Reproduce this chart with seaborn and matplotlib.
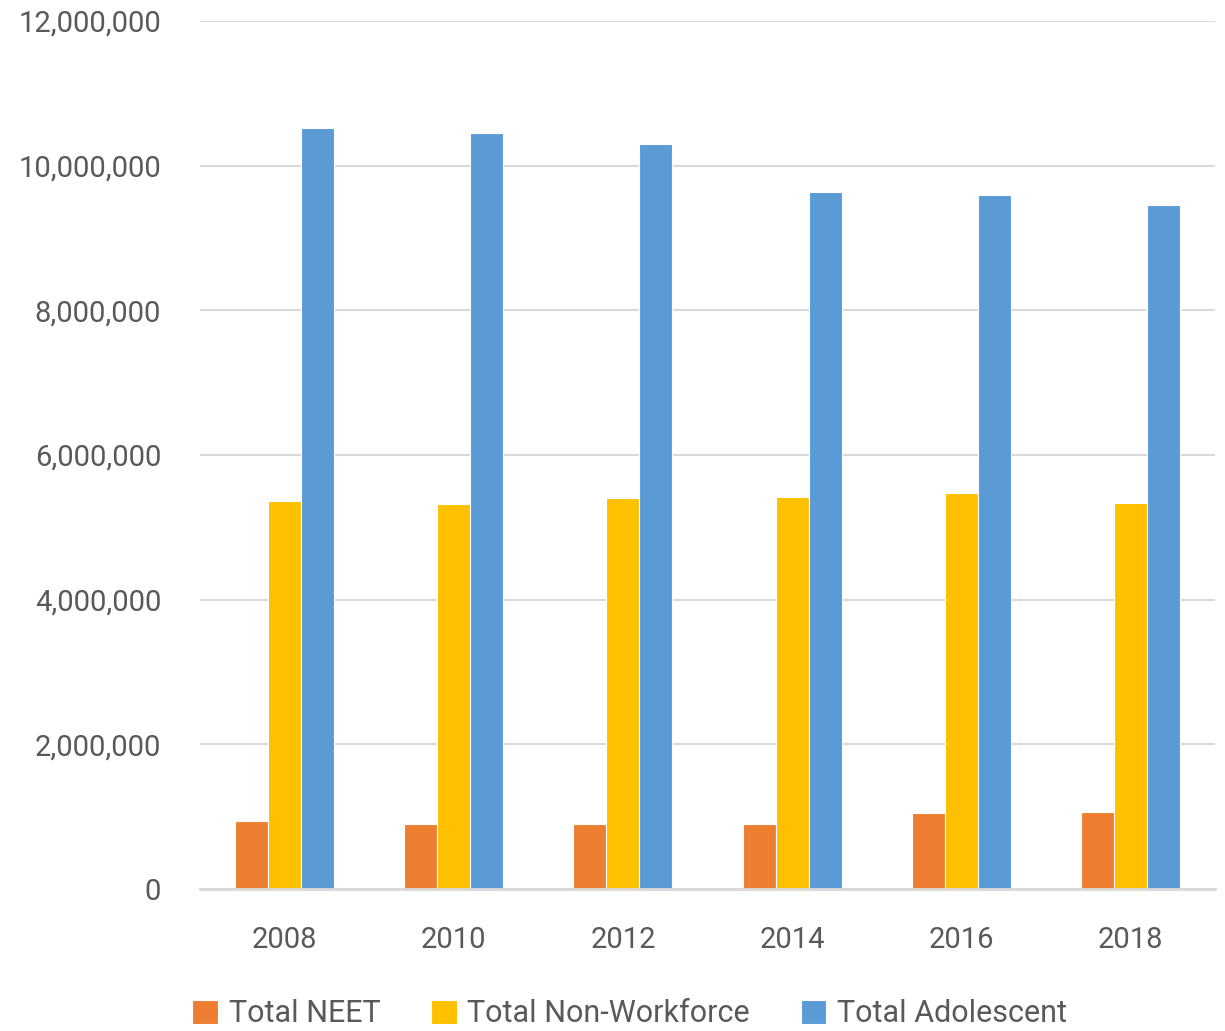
import pandas as pd
import seaborn as sns
import matplotlib.pyplot as plt
from matplotlib.ticker import FuncFormatter

# Values
years = ['2008', '2010', '2012', '2014', '2016', '2018']
total_neet = [941000, 900000, 900000, 900000, 1052000, 1066000]
total_non_workforce = [5360000, 5320000, 5400000, 5420000, 5470000, 5330000]
total_adolescent = [10520000, 10450000, 10300000, 9640000, 9590000, 9450000]

series = ['Total NEET', 'Total Non-Workforce', 'Total Adolescent']
colors = ['#ED7D31', '#FFC000', '#5B9BD5']

df = pd.DataFrame({
    'Year': years * 3,
    'Value': total_neet + total_non_workforce + total_adolescent,
    'Series': [s for s in series for _ in years],
})

sns.set_theme(style='white')
plt.rcParams['font.family'] = ['Roboto', 'DejaVu Sans']

fig = plt.figure(figsize=(12.25, 10.31), dpi=100)
ax = fig.add_axes([200 / 1225, (1031 - 889) / 1031, 1015 / 1225, 868 / 1031])

sns.barplot(data=df, x='Year', y='Value', hue='Series', hue_order=series,
            palette=colors, width=0.585, saturation=1, edgecolor='white',
            linewidth=0.8, ax=ax)

ax.set_ylim(0, 12000000)
ax.set_yticks(range(0, 12000001, 2000000))
ax.yaxis.set_major_formatter(FuncFormatter(lambda v, p: f'{int(v):,}'))
ax.grid(axis='y', color='#D9D9D9', linewidth=1.5)
ax.set_axisbelow(True)
for s in ['top', 'right', 'left']:
    ax.spines[s].set_visible(False)
ax.spines['bottom'].set_color('#D9D9D9')
ax.spines['bottom'].set_linewidth(2)
ax.set_xlabel('')
ax.set_ylabel('')
ax.tick_params(axis='y', length=0, pad=28, labelsize=21, labelcolor='#595959')
ax.tick_params(axis='x', length=0, pad=27, labelsize=21, labelcolor='#595959')

handles, labels = ax.get_legend_handles_labels()
ax.get_legend().remove()
fig.legend(handles, labels, loc='center', bbox_to_anchor=(0.514, 1 - 1014 / 1031),
           ncol=3, frameon=False, fontsize=22, labelcolor='#595959',
           handlelength=0.85, handleheight=0.85, handletextpad=0.35,
           columnspacing=1.65)

fig.savefig('out.png', dpi=100)
